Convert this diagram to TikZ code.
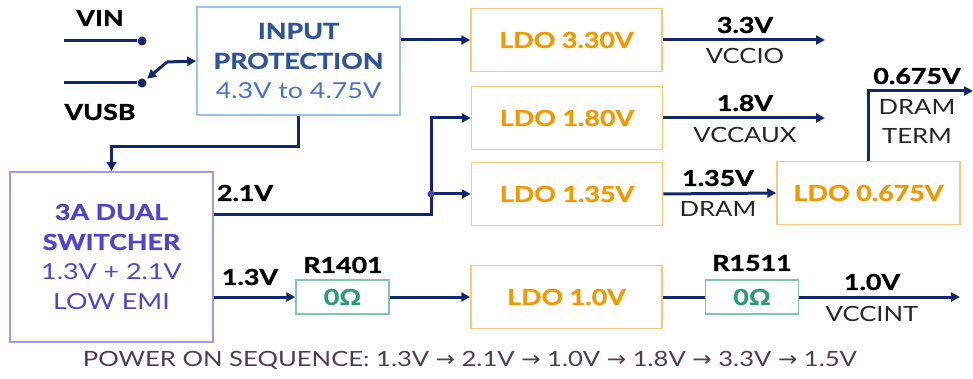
\documentclass[tikz,border=0pt]{standalone}
\usepackage{fontspec}
\setmainfont{Lato}[FakeStretch=1.22, BoldFeatures={FakeBold=1.2}]
\newfontfamily\arrfont{DejaVu Sans}[FakeStretch=1.1]
\usetikzlibrary{arrows.meta}
\definecolor{navy}{HTML}{12276B}
\definecolor{ipborder}{HTML}{9DC3E6}
\definecolor{iptext}{HTML}{2F5597}
\definecolor{ipsub}{HTML}{4472C4}
\definecolor{ldoborder}{HTML}{F8CB7A}
\definecolor{ldotext}{HTML}{EE9A00}
\definecolor{swborder}{HTML}{A09AEA}
\definecolor{swtext}{HTML}{5045C8}
\definecolor{resborder}{HTML}{80C8AA}
\definecolor{restext}{HTML}{2E9B77}
\definecolor{jdot}{HTML}{4B3FB8}
\definecolor{seqtext}{HTML}{4D4048}
\tikzset{
  wire/.style={draw=navy, line width=3pt},
  tip/.style={-{Triangle[length=9pt,width=9pt]}},
  ipbox/.style={draw=ipborder, line width=1.5pt, align=center, minimum width=203pt, minimum height=108pt, inner sep=0pt, font=\fontsize{22}{30}\selectfont},
  ldobox/.style={draw=ldoborder, line width=1.5pt, minimum height=63pt, inner sep=0pt, text=ldotext, font=\fontsize{22}{26}\selectfont\bfseries},
  swbox/.style={draw=swborder, line width=1.5pt, align=center, minimum width=203pt, minimum height=170pt, inner sep=0pt, text=swtext, font=\fontsize{22}{30}\selectfont},
  resbox/.style={draw=resborder, line width=1.5pt, minimum width=93pt, minimum height=34pt, inner sep=0pt, text=restext, font=\fontsize{22}{26}\selectfont\bfseries},
  bl/.style={font=\fontsize{22}{26}\selectfont\bfseries, text=black, inner sep=0pt},
  nl/.style={font=\fontsize{21}{26}\selectfont, text=black!85, inner sep=0pt},
  dot/.style={circle, fill=navy, minimum size=9pt, inner sep=0pt},
}
\begin{document}
\begin{tikzpicture}[x=1pt, y=-1pt]
\useasboundingbox (0,0) rectangle (973,379);
% inputs
\node[bl] (vin) at (100,18) {VIN};
\node[bl] (vusb) at (100,112) {VUSB};
\coordinate (vinL) at (64,41);
\coordinate (vusbL) at (64,83);
\node[dot] (vind) at (142,41) {};
\node[dot] (vusbd) at (142,83) {};
\draw[wire] (vinL) -- (vind);
\draw[wire] (vusbL) -- (vusbd);
% input protection
\node[ipbox] (ip) at (298.5,61) {\textcolor{iptext}{\bfseries INPUT}\\\textcolor{iptext}{\bfseries PROTECTION}\\\textcolor{ipsub}{4.3V to 4.75V}};
\coordinate (sw) at (167,62);
\draw[wire, tip] (sw) -- (ip.west);
\draw[wire, tip, shorten >=2pt] (sw) -- (vusbd);
% LDOs
\node[ldobox, minimum width=191pt] (ldo33) at (566.5,40) {LDO 3.30V};
\node[ldobox, minimum width=191pt] (ldo18) at (567,118) {LDO 1.80V};
\node[ldobox, minimum width=191pt] (ldo135) at (567,194) {LDO 1.35V};
\node[ldobox, minimum width=191pt] (ldo10) at (566.5,297) {LDO 1.0V};
\node[ldobox, minimum width=183pt] (ldo0675) at (868.5,193) {LDO 0.675V};
% switcher
\node[swbox] (sdual) at (111.5,257) {{\bfseries 3A DUAL}\\{\bfseries SWITCHER}\\1.3V + 2.1V\\LOW EMI};
% resistors
\node[resbox] (r1401) at (342.5,297) {0Ω};
\node[resbox] (r1511) at (752,297) {0Ω};
% connectors
\draw[wire, tip] (ip.east |- ldo33) -- (ldo33.west);
\draw[wire, tip] (ip.south) -- ++(0,31) -| (sdual.north);
\coordinate (j) at (431,194);
\draw[wire, tip] ([yshift=42pt]sdual.east) -| (j |- ldo18) -- (ldo18.west);
\draw[wire, tip] (j) -- (ldo135.west);
\node[circle, fill=jdot, minimum size=7pt, inner sep=0pt] (jd) at (j) {};
\draw[wire, tip] ([yshift=-40pt]sdual.east) -- (r1401.west);
\draw[wire, tip] (r1401.east) -- (ldo10.west);
\draw[wire] (ldo10.east) -- (r1511.west);
\coordinate (vccint) at (960,297);
\draw[wire, tip] (r1511.east) -- (vccint);
\coordinate (vccio) at (825,40);
\coordinate (vccaux) at (825,118);
\draw[wire, tip] (ldo33.east) -- (vccio);
\draw[wire, tip] (ldo18.east) -- (vccaux);
\draw[wire, tip] (ldo135.east) -- (ldo0675.west);
\coordinate (term) at (973,91);
\draw[wire, tip] (ldo0675.north) |- (term);
% labels
\node[bl] (l33) at (745,25) {3.3V};
\node[nl] (lvccio) at (745,56) {VCCIO};
\node[bl] (l18) at (745,103) {1.8V};
\node[nl] (lvccaux) at (745,135) {VCCAUX};
\node[bl] (l135) at (718,178) {1.35V};
\node[nl] (ldram) at (718,209) {DRAM};
\node[bl] (l0675) at (917,76) {0.675V};
\node[nl] (ldram2) at (917,107) {DRAM};
\node[nl] (lterm) at (917,136) {TERM};
\node[bl] (l21) at (245,193) {2.1V};
\node[bl] (l13) at (250,277) {1.3V};
\node[bl] (lr1401) at (343,265) {R1401};
\node[bl] (lr1511) at (752,263) {R1511};
\node[bl] (l10) at (872,282) {1.0V};
\node[nl] (lvccint) at (872,314) {VCCINT};
\node[font=\fontsize{21}{26}\selectfont, text=seqtext, inner sep=0pt] (seq) at (470,360) {POWER ON SEQUENCE: 1.3V {\arrfont→} 2.1V {\arrfont→} 1.0V {\arrfont→} 1.8V {\arrfont→} 3.3V {\arrfont→} 1.5V};
\end{tikzpicture}
\end{document}
